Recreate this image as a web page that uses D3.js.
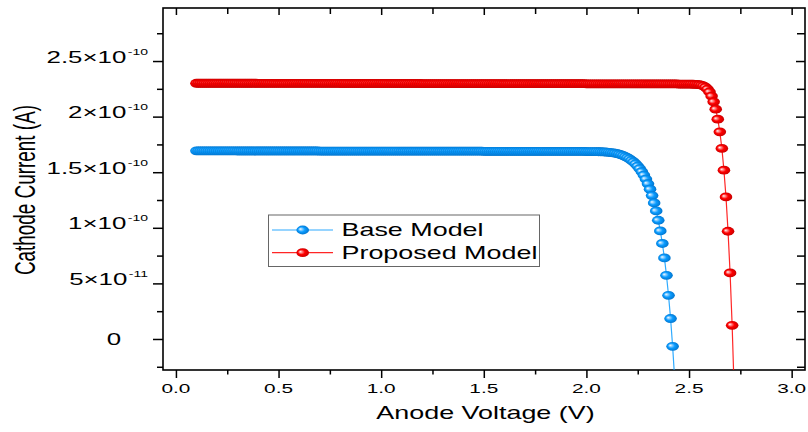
<!DOCTYPE html>
<html>
<head>
<meta charset="utf-8">
<script src="https://cdn.jsdelivr.net/npm/d3@7"></script>
<style>
  html, body { margin: 0; padding: 0; background: #fff; }
  svg { display: block; }
</style>
</head>
<body>
<script>
// ---------------- DATA ----------------
// Anode voltage grid (V), shared by both series
const voltage = [
0.10,0.11,0.12,0.13,0.14,0.15,0.16,0.17,0.18,0.19,
0.20,0.21,0.22,0.23,0.24,0.25,0.26,0.27,0.28,0.29,
0.30,0.31,0.32,0.33,0.34,0.35,0.36,0.37,0.38,0.39,
0.40,0.41,0.42,0.43,0.44,0.45,0.46,0.47,0.48,0.49,
0.50,0.51,0.52,0.53,0.54,0.55,0.56,0.57,0.58,0.59,
0.60,0.61,0.62,0.63,0.64,0.65,0.66,0.67,0.68,0.69,
0.70,0.71,0.72,0.73,0.74,0.75,0.76,0.77,0.78,0.79,
0.80,0.81,0.82,0.83,0.84,0.85,0.86,0.87,0.88,0.89,
0.90,0.91,0.92,0.93,0.94,0.95,0.96,0.97,0.98,0.99,
1.00,1.01,1.02,1.03,1.04,1.05,1.06,1.07,1.08,1.09,
1.10,1.11,1.12,1.13,1.14,1.15,1.16,1.17,1.18,1.19,
1.20,1.21,1.22,1.23,1.24,1.25,1.26,1.27,1.28,1.29,
1.30,1.31,1.32,1.33,1.34,1.35,1.36,1.37,1.38,1.39,
1.40,1.41,1.42,1.43,1.44,1.45,1.46,1.47,1.48,1.49,
1.50,1.51,1.52,1.53,1.54,1.55,1.56,1.57,1.58,1.59,
1.60,1.61,1.62,1.63,1.64,1.65,1.66,1.67,1.68,1.69,
1.70,1.71,1.72,1.73,1.74,1.75,1.76,1.77,1.78,1.79,
1.80,1.81,1.82,1.83,1.84,1.85,1.86,1.87,1.88,1.89,
1.90,1.91,1.92,1.93,1.94,1.95,1.96,1.97,1.98,1.99,
2.00,2.01,2.02,2.03,2.04,2.05,2.06,2.07,2.08,2.09,
2.10,2.11,2.12,2.13,2.14,2.15,2.16,2.17,2.18,2.19,
2.20,2.21,2.22,2.23,2.24,2.25,2.26,2.27,2.28,2.29,
2.30,2.31,2.32,2.33,2.34,2.35,2.36,2.37,2.38,2.39,
2.40,2.41,2.42,2.43,2.44,2.45,2.46,2.47,2.48,2.49,
2.50,2.51,2.52,2.53,2.54,2.55,2.56,2.57,2.58,2.59,
2.60,2.61,2.62,2.63,2.64,2.65,2.66,2.67,2.68,2.69,
2.70,2.71,2.72
];

// Cathode current, in units of 1e-10 A (Base Model: 0.10 V .. 2.43 V)
const baseCurrent = [
1.692,1.692,1.692,1.692,1.692,1.692,1.692,1.692,1.692,1.692,
1.692,1.692,1.692,1.692,1.692,1.692,1.692,1.692,1.692,1.692,
1.691,1.691,1.691,1.691,1.691,1.691,1.691,1.691,1.691,1.691,
1.691,1.691,1.691,1.691,1.691,1.691,1.691,1.691,1.691,1.691,
1.691,1.691,1.691,1.691,1.691,1.691,1.691,1.691,1.691,1.691,
1.691,1.691,1.691,1.691,1.691,1.691,1.691,1.691,1.691,1.691,
1.690,1.690,1.690,1.690,1.690,1.690,1.690,1.690,1.690,1.690,
1.690,1.690,1.690,1.690,1.690,1.690,1.690,1.690,1.690,1.690,
1.690,1.690,1.690,1.690,1.690,1.690,1.690,1.690,1.690,1.690,
1.690,1.690,1.690,1.690,1.690,1.690,1.690,1.690,1.690,1.690,
1.689,1.689,1.689,1.689,1.689,1.689,1.689,1.689,1.689,1.689,
1.689,1.689,1.689,1.689,1.689,1.689,1.689,1.689,1.689,1.689,
1.689,1.689,1.689,1.689,1.689,1.689,1.689,1.689,1.689,1.689,
1.689,1.689,1.689,1.689,1.689,1.689,1.689,1.689,1.689,1.689,
1.688,1.688,1.688,1.688,1.688,1.688,1.688,1.688,1.688,1.688,
1.688,1.688,1.688,1.688,1.688,1.688,1.688,1.688,1.688,1.688,
1.688,1.688,1.688,1.688,1.688,1.688,1.688,1.688,1.688,1.688,
1.687,1.687,1.687,1.687,1.687,1.687,1.687,1.687,1.687,1.687,
1.687,1.687,1.687,1.687,1.687,1.687,1.687,1.687,1.687,1.687,
1.686,1.686,1.686,1.686,1.686,1.685,1.684,1.684,1.683,1.682,
1.681,1.679,1.677,1.674,1.671,1.667,1.662,1.656,1.649,1.641,
1.631,1.620,1.607,1.592,1.575,1.555,1.532,1.505,1.474,1.438,
1.396,1.347,1.290,1.224,1.152,1.068,0.972,0.859,0.729,0.573,
0.393,0.184,-0.066,-0.360
];

// Cathode current, in units of 1e-10 A (Proposed Model: 0.10 V .. 2.72 V)
const proposedCurrent = [
2.300,2.300,2.300,2.300,2.300,2.300,2.300,2.300,2.300,2.300,
2.300,2.300,2.300,2.300,2.300,2.300,2.300,2.300,2.300,2.300,
2.300,2.300,2.300,2.300,2.300,2.300,2.300,2.300,2.300,2.300,
2.299,2.299,2.299,2.299,2.299,2.299,2.299,2.299,2.299,2.299,
2.299,2.299,2.299,2.299,2.299,2.299,2.299,2.299,2.299,2.299,
2.299,2.299,2.299,2.299,2.299,2.299,2.299,2.299,2.299,2.299,
2.299,2.299,2.299,2.299,2.299,2.299,2.299,2.299,2.299,2.299,
2.298,2.298,2.298,2.298,2.298,2.298,2.298,2.298,2.298,2.298,
2.298,2.298,2.298,2.298,2.298,2.298,2.298,2.298,2.298,2.298,
2.298,2.298,2.298,2.298,2.298,2.298,2.298,2.298,2.298,2.298,
2.298,2.298,2.298,2.298,2.298,2.298,2.298,2.298,2.298,2.298,
2.297,2.297,2.297,2.297,2.297,2.297,2.297,2.297,2.297,2.297,
2.297,2.297,2.297,2.297,2.297,2.297,2.297,2.297,2.297,2.297,
2.297,2.297,2.297,2.297,2.297,2.297,2.297,2.297,2.297,2.297,
2.297,2.297,2.297,2.297,2.297,2.297,2.297,2.297,2.297,2.297,
2.296,2.296,2.296,2.296,2.296,2.296,2.296,2.296,2.296,2.296,
2.296,2.296,2.296,2.296,2.296,2.296,2.296,2.296,2.296,2.296,
2.296,2.296,2.296,2.296,2.296,2.296,2.296,2.296,2.296,2.296,
2.296,2.296,2.296,2.296,2.296,2.296,2.296,2.296,2.296,2.296,
2.295,2.295,2.295,2.295,2.295,2.295,2.295,2.295,2.295,2.295,
2.295,2.295,2.295,2.295,2.295,2.295,2.295,2.295,2.295,2.295,
2.295,2.295,2.295,2.295,2.295,2.295,2.295,2.295,2.295,2.295,
2.294,2.294,2.294,2.294,2.294,2.294,2.294,2.294,2.294,2.294,
2.294,2.294,2.294,2.294,2.294,2.293,2.293,2.293,2.293,2.293,
2.292,2.292,2.291,2.290,2.289,2.287,2.283,2.276,2.265,2.248,
2.222,2.185,2.133,2.067,1.977,1.863,1.714,1.518,1.278,0.969,
0.594,0.123,-0.470
];

const seriesNames = ["Base Model", "Proposed Model"];

const xTicks = [0, 0.5, 1, 1.5, 2, 2.5, 3];
const xTickLabels = ["0.0", "0.5", "1.0", "1.5", "2.0", "2.5", "3.0"];
const xMinorTicks = [0.25, 0.75, 1.25, 1.75, 2.25, 2.75];

const yTicks = [0, 0.5, 1, 1.5, 2, 2.5];               // ×1e-10 A
const yTickMantissa = ["0", "5", "1", "1.5", "2", "2.5"];
const yTickExponent = ["", "-11", "-10", "-10", "-10", "-10"];
const yMinorTicks = [-0.25, 0.25, 0.75, 1.25, 1.75, 2.25, 2.75];

const xTitle = "Anode Voltage (V)";
const yTitle = "Cathode Current (A)";

// ---------------- STYLE / LAYOUT ----------------
const W = 808, H = 432;
const plot = { left: 163, right: 805, top: 8, bottom: 370 };
const FONT = "'Liberation Sans', Arial, Helvetica, sans-serif";
const SX = 1.52;                  // horizontal text stretch of the original
const colors = ["#0a9cff", "#ff0000"];
const dark = ["#0070c8", "#c00000"];
const light = ["#9fd6ff", "#ff9a9a"];

const svg = d3.select("body").append("svg")
  .attr("width", W).attr("height", H);

svg.append("rect").attr("width", W).attr("height", H).attr("fill", "#fff");

const x = d3.scaleLinear().domain([-0.063, 3.065]).range([plot.left, plot.right]);
const y = d3.scaleLinear().domain([-0.279, 2.977]).range([plot.bottom, plot.top]);

const defs = svg.append("defs");
defs.append("clipPath").attr("id", "clip")
  .append("rect")
  .attr("x", plot.left).attr("y", plot.top)
  .attr("width", plot.right - plot.left).attr("height", plot.bottom - plot.top);

colors.forEach((c, i) => {
  const g = defs.append("radialGradient").attr("id", "ball" + i)
    .attr("cx", "0.5").attr("cy", "0.5").attr("r", "0.55")
    .attr("fx", "0.3").attr("fy", "0.38");
  g.append("stop").attr("offset", "0").attr("stop-color", "#ffffff");
  g.append("stop").attr("offset", "0.18").attr("stop-color", light[i]);
  g.append("stop").attr("offset", "0.5").attr("stop-color", c);
  g.append("stop").attr("offset", "1").attr("stop-color", dark[i]);
});

// ---------------- AXES ----------------
function styleAxis(g) {
  g.select(".domain").remove();
  g.selectAll("line").attr("stroke", "#000").attr("stroke-width", 1.5);
  g.selectAll("text").remove();
}
// bottom
svg.append("g").attr("transform", `translate(0,${plot.bottom})`)
  .call(d3.axisBottom(x).tickValues(xTicks).tickSize(8).tickFormat(""))
  .call(styleAxis);
svg.append("g").attr("transform", `translate(0,${plot.bottom})`)
  .call(d3.axisBottom(x).tickValues(xMinorTicks).tickSize(4.5).tickFormat(""))
  .call(styleAxis);
// top (inward)
svg.append("g").attr("transform", `translate(0,${plot.top})`)
  .call(d3.axisTop(x).tickValues(xTicks).tickSize(-7).tickFormat(""))
  .call(styleAxis);
svg.append("g").attr("transform", `translate(0,${plot.top})`)
  .call(d3.axisTop(x).tickValues(xMinorTicks).tickSize(-6).tickFormat(""))
  .call(styleAxis);
// left
svg.append("g").attr("transform", `translate(${plot.left},0)`)
  .call(d3.axisLeft(y).tickValues(yTicks).tickSize(10).tickFormat(""))
  .call(styleAxis);
svg.append("g").attr("transform", `translate(${plot.left},0)`)
  .call(d3.axisLeft(y).tickValues(yMinorTicks).tickSize(6).tickFormat(""))
  .call(styleAxis);
// right (inward)
svg.append("g").attr("transform", `translate(${plot.right},0)`)
  .call(d3.axisRight(y).tickValues(yTicks).tickSize(-9).tickFormat(""))
  .call(styleAxis);
svg.append("g").attr("transform", `translate(${plot.right},0)`)
  .call(d3.axisRight(y).tickValues(yMinorTicks).tickSize(-8).tickFormat(""))
  .call(styleAxis);

// frame
svg.append("rect")
  .attr("x", plot.left).attr("y", plot.top)
  .attr("width", plot.right - plot.left).attr("height", plot.bottom - plot.top)
  .attr("fill", "none").attr("stroke", "#000").attr("stroke-width", 1.6);

// x tick labels
svg.append("g").selectAll("text").data(xTicks).join("text")
  .attr("transform", (d) => `translate(${x(d)},393) scale(${SX},1)`)
  .attr("text-anchor", "middle")
  .attr("font-family", FONT).attr("font-size", 13.7).attr("fill", "#000")
  .text((d, i) => xTickLabels[i]);

// y tick labels
const yl = svg.append("g").selectAll("text").data(yTicks).join("text")
  .attr("transform", (d, i) => yTickExponent[i]
      ? `translate(148,${y(d) + 1.5}) scale(${SX},1)`
      : `translate(114,${y(d) + 6}) scale(${SX},1)`)
  .attr("text-anchor", (d, i) => yTickExponent[i] ? "end" : "middle")
  .attr("font-family", FONT).attr("font-size", 17).attr("fill", "#000");
yl.each(function (d, i) {
  const t = d3.select(this);
  if (yTickExponent[i]) {
    t.append("tspan").text(yTickMantissa[i] + "\u00d710");
    t.append("tspan").attr("font-size", 9.2).attr("dx", 1).attr("dy", -8)
      .text(yTickExponent[i]);
  } else {
    t.append("tspan").text(yTickMantissa[i]);
  }
});

// axis titles
svg.append("text")
  .attr("transform", `translate(485.5,419) scale(${SX},1)`)
  .attr("text-anchor", "middle")
  .attr("font-family", FONT).attr("font-size", 17.7).attr("fill", "#000")
  .text(xTitle);
svg.append("text")
  .attr("transform", `translate(34.5,190) scale(${SX},1) rotate(-90)`)
  .attr("text-anchor", "middle")
  .attr("font-family", FONT).attr("font-size", 18.9).attr("fill", "#000")
  .text(yTitle);

// ---------------- DATA MARKS ----------------
const series = [baseCurrent, proposedCurrent].map((cur) =>
  cur.map((c, i) => ({ v: voltage[i], c })));

const line = d3.line().x((d) => x(d.v)).y((d) => y(d.c));
const dataG = svg.append("g").attr("clip-path", "url(#clip)");

series.forEach((s, i) => {
  dataG.append("path").datum(s)
    .attr("d", line).attr("fill", "none")
    .attr("stroke", colors[i]).attr("stroke-width", 1.2).attr("opacity", 0.85);
});
series.forEach((s, i) => {
  dataG.append("g").selectAll("ellipse").data(s).join("ellipse")
    .attr("cx", (d) => x(d.v)).attr("cy", (d) => y(d.c))
    .attr("rx", 6.3).attr("ry", 4.4)
    .attr("fill", `url(#ball${i})`);
});

// ---------------- LEGEND ----------------
const lg = svg.append("g");
lg.append("rect")
  .attr("x", 268.5).attr("y", 215).attr("width", 271).attr("height", 51.5)
  .attr("fill", "#fff").attr("stroke", "#666").attr("stroke-width", 1);
seriesNames.forEach((name, i) => {
  const cy = 230 + i * 22.7;
  lg.append("line").attr("x1", 272).attr("x2", 333).attr("y1", cy).attr("y2", cy)
    .attr("stroke", colors[i]).attr("stroke-width", 1.2).attr("opacity", 0.85);
  lg.append("ellipse").attr("cx", 302.7).attr("cy", cy)
    .attr("rx", 6.3).attr("ry", 4.4).attr("fill", `url(#ball${i})`);
  lg.append("text")
    .attr("transform", `translate(341.5,${cy + 6.3}) scale(${SX},1)`)
    .attr("font-family", FONT).attr("font-size", 17.7).attr("fill", "#000")
    .text(name);
});
</script>
</body>
</html>
